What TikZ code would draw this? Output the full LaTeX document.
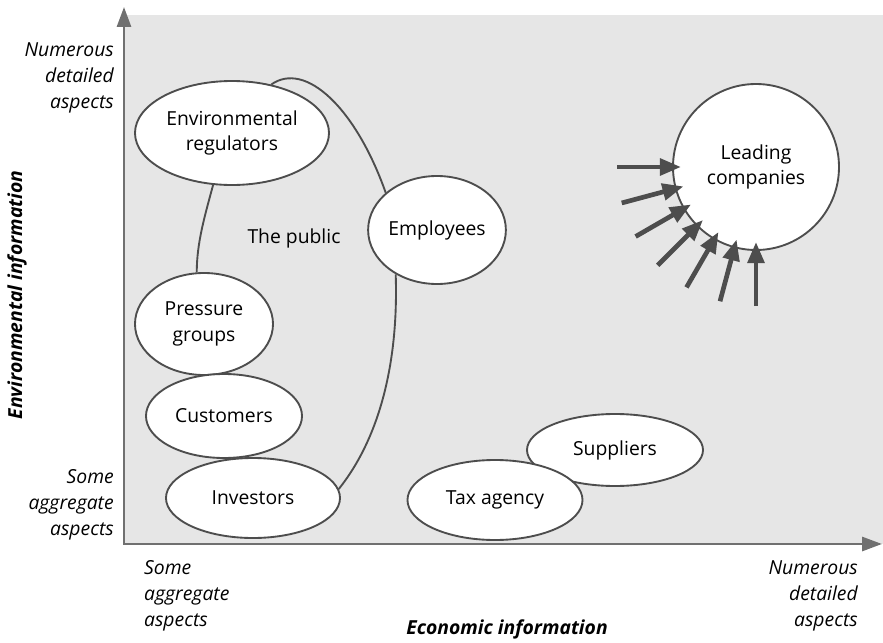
\documentclass[tikz,border=0pt]{standalone}
\usepackage{fontspec}
\setmainfont{Open Sans}
\usetikzlibrary{shapes.geometric, arrows.meta, calc}

\definecolor{linegray}{HTML}{4D4D4D}
\definecolor{axisgray}{HTML}{707070}
\definecolor{panelgray}{HTML}{E6E6E6}

\tikzset{
	actor/.style={ellipse, draw=linegray, fill=white, line width=1.6pt, inner sep=0pt,
		align=center, font=\fontsize{16.5}{22}\selectfont}
}
\tikzset{
	axislabel/.style={inner sep=0pt, font=\fontsize{16.5}{22}\selectfont\itshape},
	axistitle/.style={inner sep=0pt, font=\fontsize{16.5}{22}\selectfont\bfseries\itshape}
}
\tikzset{
	axisline/.style={axisgray, line width=2.2pt,
		{Triangle[length=17pt,width=12pt]}-{Triangle[length=17pt,width=12pt]}},
	publicline/.style={linegray, line width=1.6pt},
	pusharrow/.style={linegray, line width=4pt, -{Triangle[length=18pt,width=14pt]}}
}

\begin{document}
\begin{tikzpicture}[x=0.03cm, y=-0.03cm]
      \useasboundingbox (0,0) rectangle (883,643);

      % shaded field with the two axes
      \coordinate (origin) at (124,544);
      \coordinate (ytop) at (124,7);
      \coordinate (xend) at (882,544);
      \fill[panelgray] (origin) rectangle (883,15);
      \draw[axisline] (ytop) |- (xend);

      \node[axislabel, anchor=east, align=right] (ymax) at (114,78) {Numerous\\detailed\\aspects};
      \node[axislabel, anchor=east, align=right] (ymin) at (114,505) {Some\\aggregate\\aspects};
      \node[axislabel, anchor=west, align=left] (xmin) at (144,596) {Some\\aggregate\\aspects};
      \node[axislabel, anchor=east, align=right] (xmax) at (858,596) {Numerous\\detailed\\aspects};
      \node[axistitle] (xtitle) at (507,629) {Economic information};
      \node[axistitle, rotate=90] (ytitle) at (17,295) {Environmental information};

      % the stakeholders
      \node[actor, minimum width=5.82cm, minimum height=3.12cm] (envreg) at (232,133) {Environmental\\regulators};
      \node[actor, minimum width=4.14cm, minimum height=3.06cm] (press) at (204,324) {Pressure\\groups};
      \node[actor, minimum width=4.68cm, minimum height=2.52cm] (cust) at (224,416) {Customers};
      \node[actor, minimum width=5.22cm, minimum height=2.4cm] (inv) at (253,498) {Investors};
      \node[actor, minimum width=4.11cm, minimum height=3.24cm] (emp) at (437,230) {Employees};
      \node[actor, minimum width=5.28cm, minimum height=2.16cm] (supp) at (615,450) {Suppliers};
      \node[actor, minimum width=5.25cm, minimum height=2.4cm] (tax) at (495,500) {Tax agency};
      \node[actor, circle, minimum size=4.98cm] (lead) at (756,167) {Leading\\companies};

      % the public, drawn round the first group
      \node[inner sep=0pt, font=\fontsize{16.5}{22}\selectfont] (public) at (294,238) {The public};
      \draw[publicline] (envreg.51) .. controls +(34,-24) and +(-30,-85) .. (emp.144);
      \draw[publicline] (emp.227) .. controls +(3,90) and +(40,-50) .. (inv.6);
      \draw[publicline] (envreg.250) .. controls +(-8,30) and +(0,-30) .. (press.98);

      % pressure on the leading companies
      \foreach \a in {0,15,...,90} {
        \path ($(lead.center)+(180-\a:75)$) coordinate (tip) ++(180-\a:64) coordinate (tail);
        \draw[pusharrow] (tail) -- (tip);
      }
    \end{tikzpicture}
\end{document}
